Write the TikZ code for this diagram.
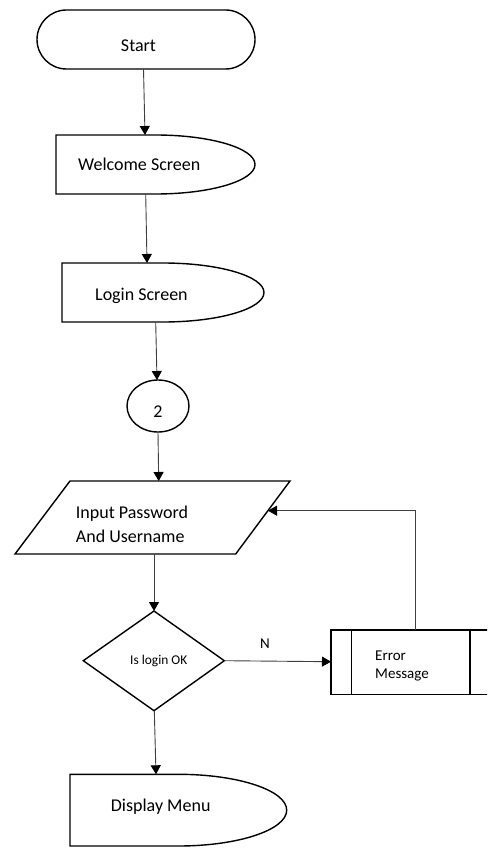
\documentclass[tikz,border=0pt]{standalone}
\usepackage{fontspec}
\setmainfont{Carlito}
\usetikzlibrary{arrows.meta}
\begin{document}
\begin{tikzpicture}[x=1pt,y=1pt,
  shapeline/.style={draw=black,line width=1.4pt},
  conn/.style={draw=black!75,line width=0.9pt,-{Triangle[length=9pt,width=10pt,color=black]}},
  bigtxt/.style={inner sep=0pt,font=\fontsize{18}{24}\selectfont},
  midtxt/.style={inner sep=0pt,font=\fontsize{15}{19}\selectfont},
  smalltxt/.style={inner sep=0pt,font=\fontsize{13.4}{16}\selectfont}]
\useasboundingbox (0,0) rectangle (487,-848);
\clip (0,0) rectangle (487,-848);
\fill[white] (0,0) rectangle (487,-848);

% Start terminator
\draw[shapeline,rounded corners=29.5pt] (37,-10) rectangle (255,-69);
% Welcome screen (delay)
\draw[shapeline] (56,-135) -- (155.5,-135) arc[start angle=90,end angle=-90,x radius=99.5,y radius=29.5] -- (56,-194) -- cycle;
% Login screen
\draw[shapeline] (62,-263) -- (163,-263) arc[start angle=90,end angle=-90,x radius=101,y radius=29.5] -- (62,-322) -- cycle;
% Connector circle
\draw[shapeline] (158,-406) ellipse[x radius=31,y radius=26];
% Parallelogram
\draw[shapeline] (70,-481) -- (290,-481) -- (235.7,-554) -- (15,-554) -- cycle;
% Diamond
\draw[shapeline] (154,-611) -- (224.3,-660.7) -- (154,-710.7) -- (83.3,-660.7) -- cycle;
% Error box (predefined process)
\draw[shapeline] (331,-630) rectangle (500,-694.3);
\draw[shapeline] (351.7,-630) -- (351.7,-694.3);
\draw[shapeline] (470,-630) -- (470,-694.3);
% Display menu
\draw[shapeline] (70,-774.3) -- (178.3,-774.3) arc[start angle=90,end angle=-90,x radius=108.4,y radius=35.85] -- (70,-846) -- cycle;

% Texts
\node[bigtxt,anchor=base] (start) at (138.5,-52) {Start};
\node[bigtxt,anchor=base west] (welcome) at (78,-170.7) {Welcome Screen};
\node[bigtxt,anchor=base west] (login) at (95,-300) {Login Screen};
\node[bigtxt,anchor=base] (two) at (158,-417) {2};
\node[bigtxt,anchor=base west] (input1) at (75.7,-518) {Input Password};
\node[bigtxt,anchor=base west] (input2) at (75.7,-542) {And Username};
\node[smalltxt,anchor=base west] (islogin) at (130,-664) {Is login OK};
\node[midtxt,anchor=base] (nlabel) at (265,-648.3) {N};
\node[midtxt,anchor=base west] (err1) at (375,-660) {Error};
\node[midtxt,anchor=base west] (err2) at (375,-678) {Message};
\node[bigtxt,anchor=base west] (display) at (110.7,-811.7) {Display Menu};

% Anchor points
\coordinate (startB) at (143.5,-69);
\coordinate (welT) at (145,-135);
\coordinate (welB) at (145.7,-194);
\coordinate (logT) at (147,-263);
\coordinate (logB) at (155.7,-322);
\coordinate (cirT) at (157,-380);
\coordinate (cirB) at (158,-432);
\coordinate (parT) at (158.7,-481);
\coordinate (parB) at (154,-554);
\coordinate (parR) at (268,-510.7);
\coordinate (diaT) at (154,-611);
\coordinate (diaR) at (224.3,-660.7);
\coordinate (diaB) at (154.3,-710.7);
\coordinate (errL) at (331,-661.7);
\coordinate (errT) at (415.7,-630);
\coordinate (errUp) at (415.7,-510.7);
\coordinate (disT) at (156,-774.3);

% Connectors
\draw[conn] (startB) -- (welT);
\draw[conn] (welB) -- (logT);
\draw[conn] (logB) -- (cirT);
\draw[conn] (cirB) -- (parT);
\draw[conn] (parB) -- (diaT);
\draw[conn] (diaR) -- (errL);
\draw[conn] (errT) -- (errUp) -- (parR);
\draw[conn] (diaB) -- (disT);
\end{tikzpicture}
\end{document}
